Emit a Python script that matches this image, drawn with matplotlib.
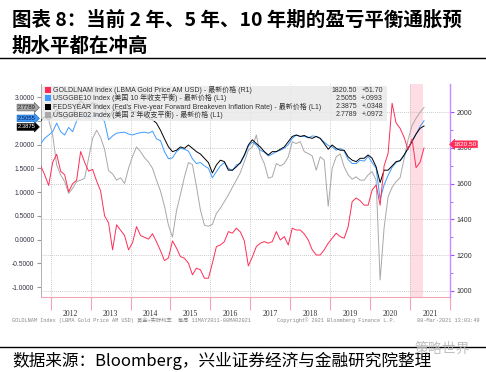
import numpy as np
import matplotlib
matplotlib.use("Agg")
import matplotlib.pyplot as plt
from matplotlib.patches import Rectangle
from matplotlib.lines import Line2D
from matplotlib.ticker import FuncFormatter

plt.rcParams['font.family'] = ['Liberation Sans', 'Noto Sans CJK SC']

# decimal years, one reading about every 0.1 year
years = np.round(2011.75 + 0.1 * np.arange(97), 2)

gold = [1700, 1650, 1590, 1720, 1765, 1670, 1650, 1555, 1600, 1620,
        1780, 1720, 1670, 1680, 1615, 1560, 1420, 1380, 1230, 1370,
        1340, 1310, 1230, 1270, 1360, 1310, 1300, 1290, 1320, 1275,
        1225, 1170, 1185, 1280, 1240, 1192, 1183, 1155, 1090, 1127,
        1118, 1071, 1071, 1155, 1248, 1257, 1276, 1332, 1323, 1351,
        1330, 1280, 1140, 1190, 1248, 1267, 1276, 1267, 1276, 1332,
        1285, 1304, 1257, 1351, 1341, 1341, 1319, 1285, 1230, 1201,
        1201, 1230, 1267, 1295, 1323, 1304, 1295, 1360, 1500, 1520,
        1505, 1480, 1480, 1565, 1593, 1480, 1700, 1770, 2050, 1940,
        1910, 1860, 1790, 1850, 1690, 1720, 1800]

be10 = [2.02, 2.13, 2.20, 2.27, 2.45, 2.27, 2.20, 2.36, 2.27, 2.50,
        2.62, 2.58, 2.55, 2.60, 2.62, 2.58, 2.48, 2.10, 2.18, 2.24,
        2.25, 2.26, 2.22, 2.20, 2.23, 2.25, 2.26, 2.24, 2.28, 2.12,
        2.08, 1.85, 1.70, 1.72, 1.85, 1.92, 1.90, 1.86, 1.70, 1.60,
        1.62, 1.55, 1.50, 1.30, 1.43, 1.55, 1.62, 1.50, 1.45, 1.57,
        1.60, 1.76, 1.96, 2.05, 1.99, 1.88, 1.84, 1.76, 1.80, 1.85,
        1.88, 1.92, 2.00, 2.13, 2.20, 2.17, 2.17, 2.14, 2.18, 2.17,
        2.13, 2.05, 1.98, 1.95, 1.88, 1.92, 1.86, 1.68, 1.60, 1.60,
        1.67, 1.65, 1.75, 1.62, 1.50, 0.85, 1.15, 1.35, 1.52, 1.62,
        1.66, 1.76, 1.92, 2.06, 2.22, 2.38, 2.50]

fwd5y5y = [2.50, 2.58, 2.52, 2.60, 2.75, 2.62, 2.55, 2.58, 2.62, 2.80,
           2.92, 2.85, 2.80, 2.88, 2.85, 2.80, 2.75, 2.55, 2.70, 2.75,
           2.72, 2.78, 2.75, 2.70, 2.68, 2.66, 2.62, 2.55, 2.52, 2.45,
           2.30, 2.12, 1.95, 1.85, 1.88, 1.95, 1.92, 1.99, 1.92, 1.85,
           1.80, 1.71, 1.62, 1.40, 1.57, 1.67, 1.64, 1.46, 1.46, 1.53,
           1.62, 1.78, 1.99, 2.10, 2.02, 1.95, 1.85, 1.78, 1.85, 1.85,
           1.90, 1.95, 2.06, 2.17, 2.20, 2.17, 2.19, 2.15, 2.13, 2.17,
           2.13, 2.02, 1.90, 1.99, 1.92, 1.88, 1.88, 1.74, 1.67, 1.64,
           1.71, 1.71, 1.78, 1.71, 1.53, 1.20, 1.46, 1.46, 1.55, 1.64,
           1.66, 1.78, 1.92, 2.07, 2.22, 2.34, 2.39]

be02 = [2.55, 2.59, 2.52, 2.20, 1.57, 1.36, 1.22, 0.97, 1.08, 1.22,
        1.25, 1.29, 1.71, 2.13, 2.30, 2.15, 1.90, 1.45, 1.38, 1.25,
        1.30, 1.18, 1.50, 1.75, 1.95, 1.85, 1.72, 1.63, 1.50, 1.25,
        1.02, 0.70, 0.30, 0.05, 0.60, 0.95, 1.32, 1.62, 1.58, 1.12,
        0.62, 0.30, 0.28, 0.32, 0.55, 0.66, 0.80, 0.94, 1.10, 1.25,
        1.41, 1.64, 1.88, 1.95, 2.20, 1.78, 1.60, 1.29, 1.32, 1.60,
        1.55, 1.60, 1.74, 2.06, 2.02, 2.06, 1.85, 1.81, 1.76, 1.46,
        1.74, 1.67, 0.70, 1.50, 1.74, 1.80, 1.53, 1.36, 1.27, 1.32,
        1.25, 1.25, 1.36, 1.43, 1.25, -0.85, 0.25, 0.90, 1.10, 1.22,
        1.30, 1.70, 2.10, 2.40, 2.55, 2.68, 2.78]

year_labels = ['2012', '2013', '2014', '2015', '2016', '2017', '2018', '2019', '2020', '2021']

legend_labels = ['GOLDLNAM Index (LBMA Gold Price AM USD) - 最新价格 (R1)',
                 'USGGBE10 Index (美国 10 年收支平衡) - 最新价格 (L1)',
                 "FEDSYEAR Index (Fed's Five-year Forward Breakeven Inflation Rate) - 最新价格 (L1)",
                 'USGGBE02 Index (美国 2 年收支平衡) - 最新价格 (L1)']
legend_last = ['1820.50', '2.5055', '2.3875', '2.7789']
legend_chg = ['+51.70', '+.0993', '+.0348', '+.0972']

RED = '#ff2d55'
BLUE = '#3d9bff'
BLACK = '#000000'
GRAY = '#a8a8a8'
PURPLE = '#c58cff'
PINK = '#f4a3b3'

W, H = 486, 372
fig = plt.figure(figsize=(W / 100, H / 100), dpi=100)
ax = fig.add_axes([40.7 / W, 1 - 297 / H, (450 - 40.7) / W, 213 / H])
ax2 = ax.twinx()

LEFT_LIM = (-1.21, 3.274)
RIGHT_LIM = (966, 2158)
ax.set_xlim(2011.75, 2022.0)
ax.set_ylim(*LEFT_LIM)
ax2.set_ylim(*RIGHT_LIM)


def right_to_left(v):
    return LEFT_LIM[0] + (v - RIGHT_LIM[0]) / (RIGHT_LIM[1] - RIGHT_LIM[0]) * (LEFT_LIM[1] - LEFT_LIM[0])


# grid
for yr in range(2012, 2022):
    ax.axvline(yr, color='#b8b8b8', lw=0.6, ls=(0, (1, 1.5)), zorder=0.2)
for g in range(1000, 2001, 200):
    ax.axhline(right_to_left(g), color='#b8b8b8', lw=0.6, ls=(0, (1, 1.5)), zorder=0.2)

ax.axvspan(2021.0, 2021.33, color='#ffdde4', lw=0, zorder=0.1)

ax.plot(years, be02, color=GRAY, lw=0.7, zorder=2)
ax.plot(years, be10, color=BLUE, lw=0.7, zorder=3)
ax.plot(years, fwd5y5y, color=BLACK, lw=0.7, zorder=4)
ax2.plot(years, gold, color=RED, lw=0.7, zorder=2)

# spines
for s in ['top', 'right']:
    ax.spines[s].set_visible(False)
for s in ['top', 'left', 'bottom']:
    ax2.spines[s].set_visible(False)
ax.spines['left'].set_color('#b0b0b0')
ax.spines['left'].set_linewidth(0.7)
ax.spines['bottom'].set_color(PINK)
ax.spines['bottom'].set_linewidth(0.8)
ax2.spines['right'].set_color(PURPLE)
ax2.spines['right'].set_linewidth(1.0)

# x axis: year boundaries as ticks, labels centred in each year
ax.set_xticks(np.arange(2012, 2023))
ax.set_xticklabels([])
ax.set_xticks(np.arange(2012, 2022) + 0.5, minor=True)
ax.set_xticklabels(year_labels, minor=True, fontsize=5.5, family='Liberation Serif', color='#333333')
ax.tick_params(axis='x', which='major', length=9, color=PINK, width=0.8)
ax.tick_params(axis='x', which='minor', length=0, pad=9)

# left axis (2.5000 sits under the last-value tags, so it is left blank)
ax.set_yticks(np.arange(-1.0, 3.01, 0.5))
ax.yaxis.set_major_formatter(FuncFormatter(lambda v, p: '' if abs(v - 2.5) < 1e-6 else '%.4f' % v))
ax.tick_params(axis='y', length=3, color='#999999', labelsize=4.8, labelcolor='#333344', pad=1.5)

# right axis
ax2.set_yticks(range(1000, 2001, 200))
ax2.set_yticks(range(1100, 2000, 200), minor=True)
ax2.tick_params(axis='y', which='major', length=3, color='#a050ff', labelsize=5, labelcolor='#333333', pad=2)
ax2.tick_params(axis='y', which='minor', length=2, color='#a050ff')

# last value tags (nudged apart slightly, as on the terminal)
ytr = ax.get_yaxis_transform()
ax.text(-0.012, 2.7789, '2.7789', transform=ytr, ha='right', va='center', fontsize=4.2,
        color='#222222', clip_on=False, zorder=6,
        bbox=dict(boxstyle='rarrow,pad=0.15', fc='#a8a8a8', ec='#555555', lw=0.4))
ax.text(-0.012, 2.37, '2.3875', transform=ytr, ha='right', va='center', fontsize=4.2,
        color='white', clip_on=False, zorder=6,
        bbox=dict(boxstyle='rarrow,pad=0.15', fc='black', ec='black', lw=0.4))
ax.text(-0.012, 2.55, '2.5055', transform=ytr, ha='right', va='center', fontsize=4.2,
        color='#111133', clip_on=False, zorder=7,
        bbox=dict(boxstyle='rarrow,pad=0.15', fc=BLUE, ec='#1a5fb0', lw=0.4))
ax2.text(1.008, 1820.5, '1820.50', transform=ax2.get_yaxis_transform(), ha='left', va='center',
         fontsize=4.6, color='white', clip_on=False, zorder=6,
         bbox=dict(boxstyle='larrow,pad=0.15', fc=RED, ec=RED, lw=0.4))

# legend panel
fig.add_artist(Rectangle((42 / W, 1 - 121 / H), 345 / W, 35 / H, transform=fig.transFigure,
                         fc='#e9e9e9', ec='none', alpha=0.85, zorder=10))
row_y = [90, 98.3, 106.6, 114.9]
colors = [RED, BLUE, BLACK, GRAY]
for yy, c, lab, last, chg in zip(row_y, colors, legend_labels, legend_last, legend_chg):
    fig.add_artist(Rectangle((44.5 / W, 1 - (yy + 3) / H), 6 / W, 6 / H, transform=fig.transFigure,
                             fc=c, ec='none', zorder=11))
    fig.text(53 / W, 1 - yy / H, lab, fontsize=5, color='#333333', va='center', ha='left', zorder=12)
    fig.text(357 / W, 1 - yy / H, last, fontsize=5, color='#333333', va='center', ha='right', zorder=12)
    fig.text(383 / W, 1 - yy / H, chg, fontsize=5, color='#333333', va='center', ha='right', zorder=12)

# title
fig.text(12 / W, 1 - 20 / H, '图表 8：当前 2 年、5 年、10 年期的盈亏平衡通胀预', fontsize=14,
         fontweight='bold', family=['Noto Sans CJK SC'], va='center', ha='left')
fig.text(12 / W, 1 - 46 / H, '期水平都在冲高', fontsize=14,
         fontweight='bold', family=['Noto Sans CJK SC'], va='center', ha='left')
fig.add_artist(Line2D([0, 1], [1 - 58.3 / H, 1 - 58.3 / H], transform=fig.transFigure, color='black', lw=1))

# bloomberg footer
mono = ['Liberation Mono', 'Noto Sans CJK SC']
fig.text(12 / W, 1 - 320 / H, 'GOLDLNAM Index (LBMA Gold Price AM USD) 黄金+实际利率  每周 11MAY2011-08MAR2021',
         fontsize=3.8, color='#888888', family=mono, va='center', ha='left')
fig.text(277 / W, 1 - 320 / H, 'Copyright© 2021 Bloomberg Finance L.P.',
         fontsize=3.8, color='#888888', family=mono, va='center', ha='left')
fig.text(479 / W, 1 - 320 / H, '08-Mar-2021 13:03:49',
         fontsize=3.8, color='#888888', family=mono, va='center', ha='right')

# source line and faint watermark
fig.add_artist(Line2D([0, 1], [1 - 347.3 / H, 1 - 347.3 / H], transform=fig.transFigure, color='black', lw=1))
fig.text(470 / W, 1 - 349 / H, '策略世界', fontsize=10, color='#b8b8b8', alpha=0.9,
         family=['Noto Sans CJK SC'], va='center', ha='right', zorder=5)
fig.text(12 / W, 1 - 361 / H, '数据来源：Bloomberg，兴业证券经济与金融研究院整理', fontsize=12,
         family=['Noto Sans CJK SC'], va='center', ha='left')

fig.savefig('out.png', dpi=100)
